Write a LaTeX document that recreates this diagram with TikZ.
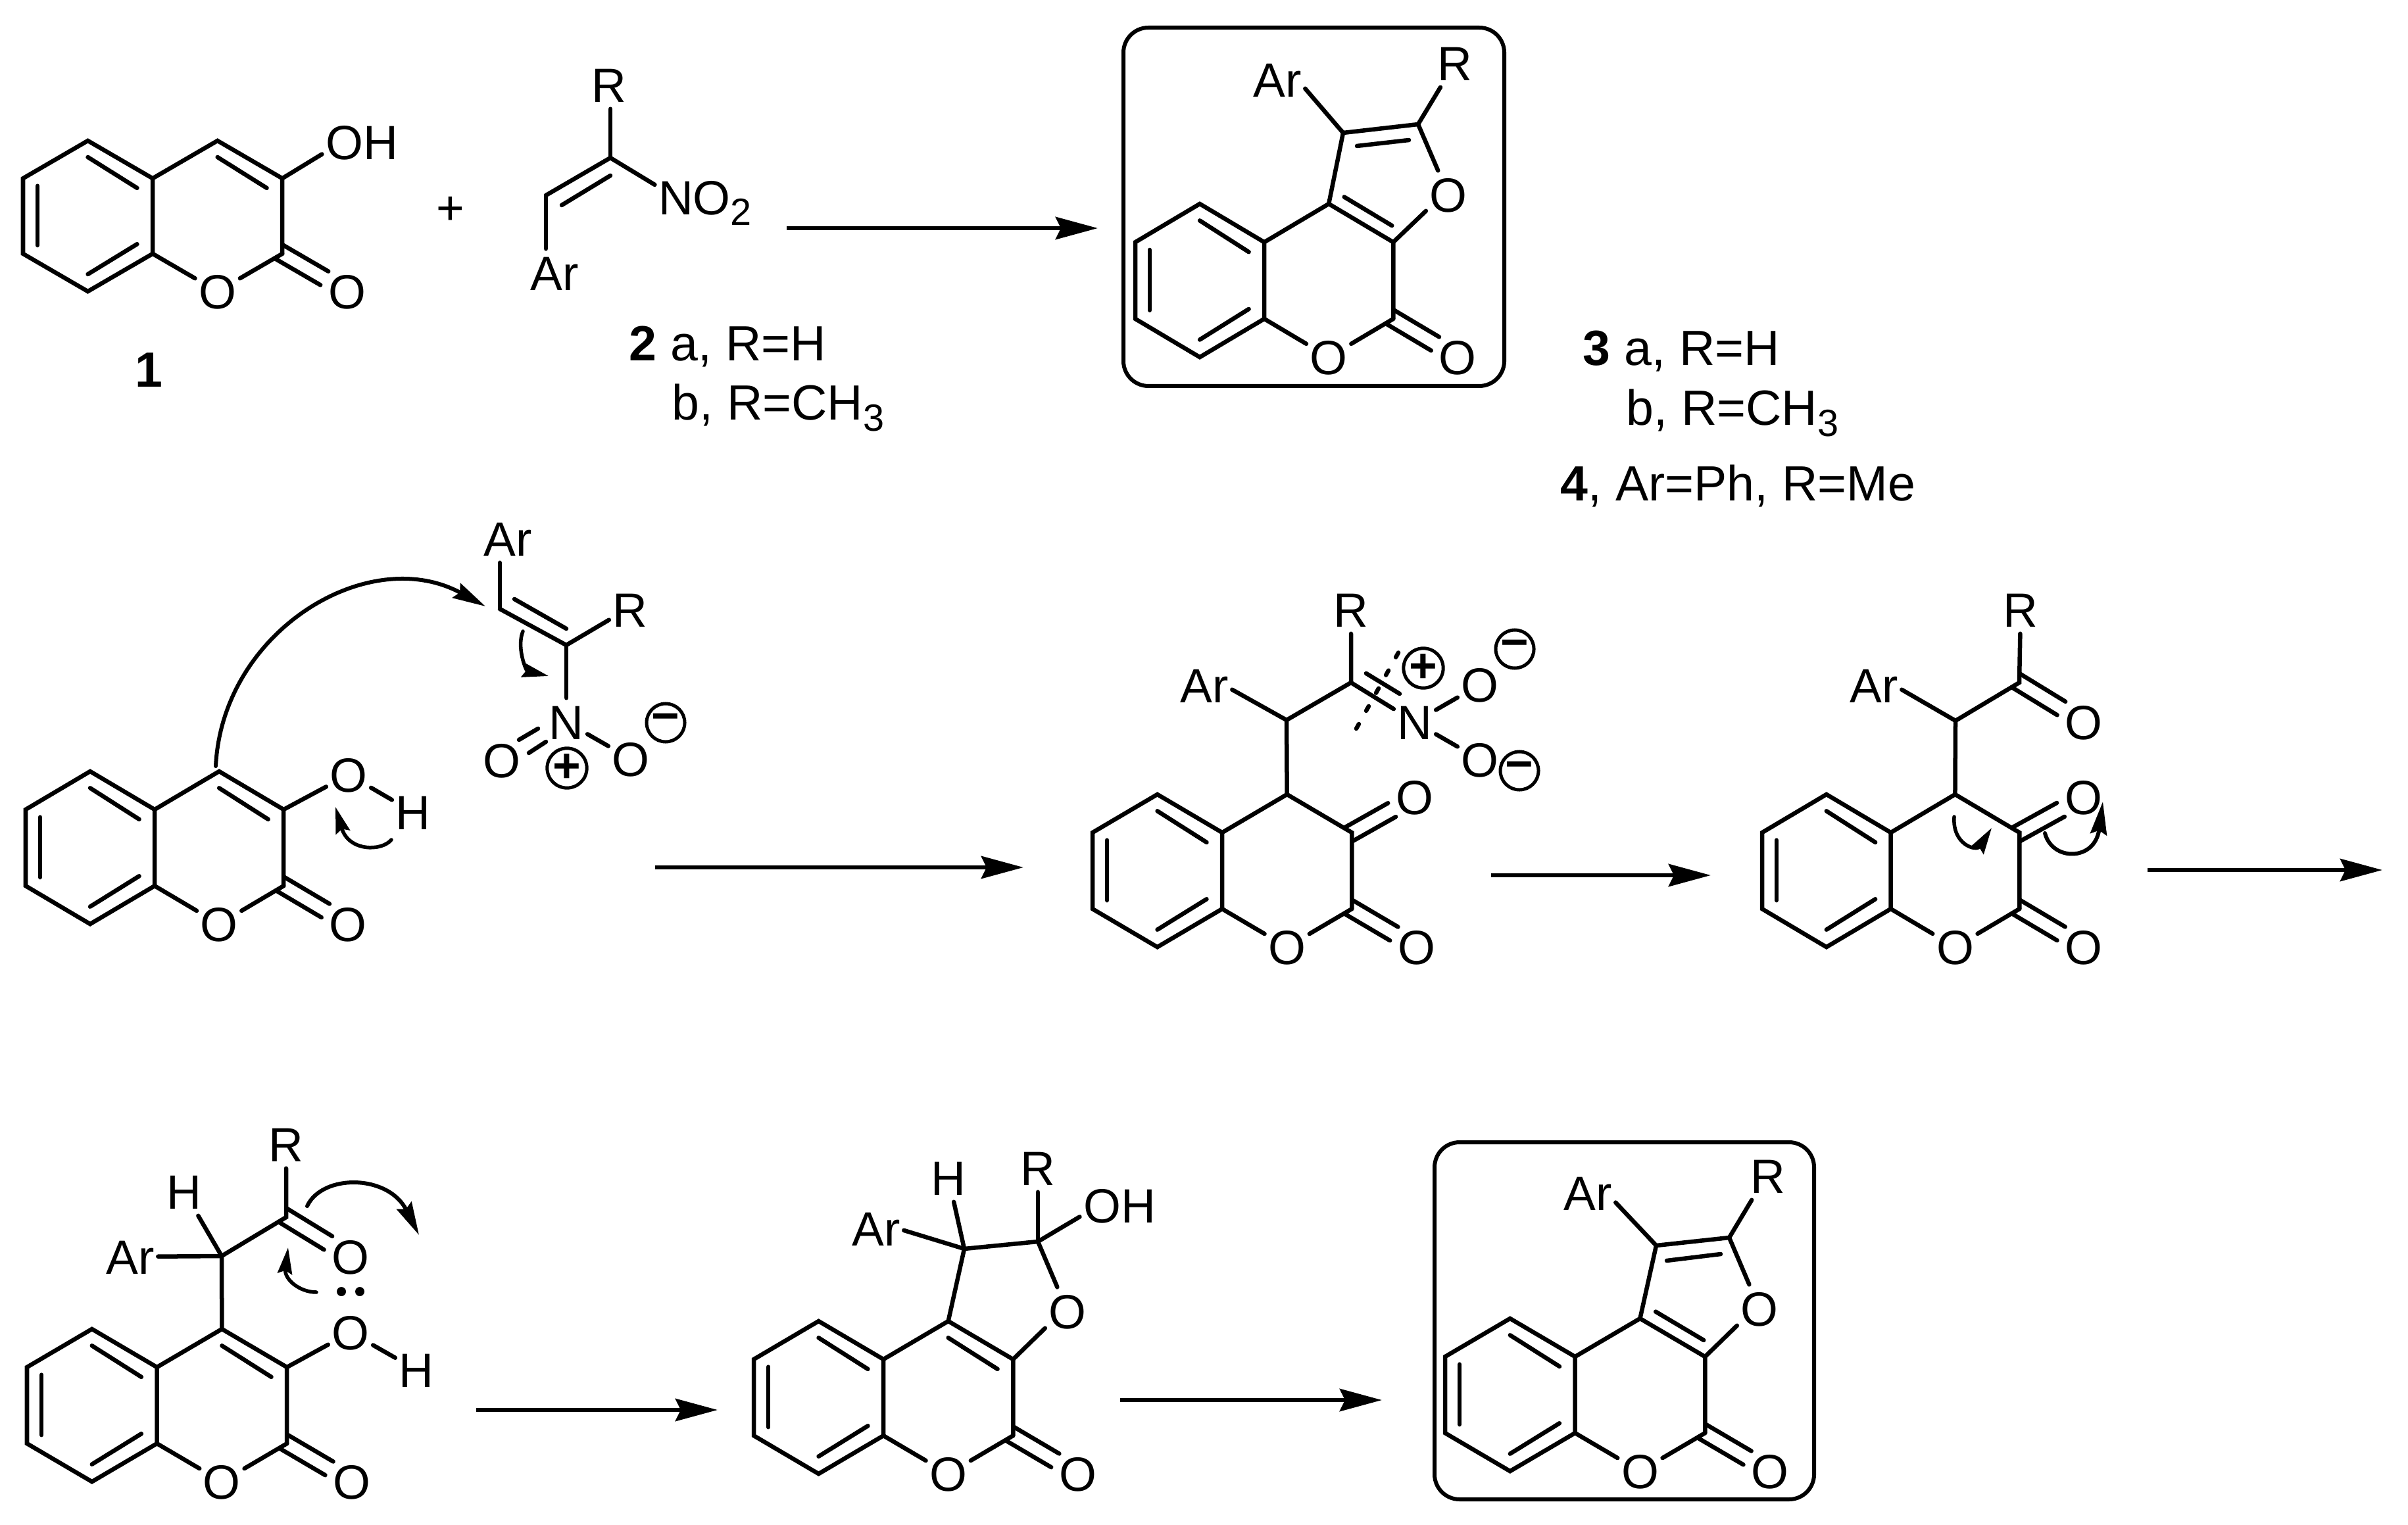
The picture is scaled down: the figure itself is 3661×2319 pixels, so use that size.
\documentclass[tikz,border=0pt]{standalone}
\usepackage{fontspec}
\setmainfont{Liberation Sans}
\usetikzlibrary{arrows.meta,calc,positioning}

\tikzset{
    bond/.style={line width=.065cm, line cap=round},
    atom/.style={inner xsep=.05cm, inner ysep=.1cm, text height=.52cm, text depth=0pt, font=\fontsize{20.8pt}{24pt}\selectfont},
    lbl/.style={inner sep=0pt, anchor=west, text height=.52cm, text depth=0pt, font=\fontsize{21.4pt}{24pt}\selectfont},
    rxn/.style={line width=.067cm, -{Stealth[length=.64cm, width=.34cm, inset=.08cm]}},
    arcbig/.style={line width=.06cm, line cap=round, -{Stealth[length=.5cm, width=.25cm, inset=.06cm]}},
    arcsmall/.style={line width=.055cm, line cap=round, -{Stealth[length=.4cm, width=.22cm, inset=.05cm]}},
    charge/.style={circle, draw, line width=.05cm, minimum size=.58cm, inner sep=0pt, font=\fontsize{20.8pt}{24pt}\selectfont\bfseries},
    lonepair/.style={circle, fill, minimum size=.14cm, inner sep=0pt},
    framebox/.style={line width=.06cm, rounded corners=.38cm}
}

\newcommand{\subs}[1]{\raisebox{-.23em}{\fontsize{16.4pt}{16pt}\selectfont #1}}
\newcommand{\dblbond}[2]{
    \draw[bond, shorten <=-.06cm, shorten >=.4cm] ($(#1)!.12cm!90:(#2)$) -- ($(#2)!.12cm!-90:(#1)$);
    \draw[bond, shorten <=-.06cm, shorten >=.4cm] ($(#1)!.12cm!-90:(#2)$) -- ($(#2)!.12cm!90:(#1)$);
}
\newcommand{\lactonedbl}{\draw[bond] (1.5,.109) -- (1.88,.314);}
\newcommand{\furandbl}{\draw[bond] (1.62,-.045) -- (1.99,.142);}
\newcommand{\coumarin}[6]{
    \begin{scope}[shift={(#2,#3)}, x=#4cm, y=-#5cm]
        \coordinate (#1a1) at (0,.25);
        \coordinate (#1a2) at (.5,0);
        \coordinate (#1b1) at (1,.25);
        \coordinate (#1b2) at (1,.75);
        \coordinate (#1a3) at (.5,1);
        \coordinate (#1a4) at (0,.75);
        \coordinate (#1c0) at (1.5,0);
        \coordinate (#1c1) at (2,.25);
        \coordinate (#1c2) at (2,.75);
        \node[atom] (#1o) at (1.5,1) {O};
        \node[atom] (#1oc) at (2.5,1) {O};
        \draw[bond] (#1a1) -- (#1a2) -- (#1b1) -- (#1b2) -- (#1a3) -- (#1a4) -- cycle;
        \draw[bond] (#1b1) -- (#1c0) -- (#1c1) -- (#1c2);
        \draw[bond] (#1b2) -- (#1o);
        \draw[bond] (#1o) -- (#1c2);
        \draw[bond] (.5,.109) -- (.88,.314);
        \draw[bond] (.112,.3) -- (.112,.694);
        \draw[bond] (.5,.886) -- (.88,.686);
        #6
    \end{scope}
    \dblbond{#1c2}{#1oc}
}

\begin{document}
\begin{tikzpicture}[x=.01cm, y=-.01cm]
    \useasboundingbox (0,0) rectangle (3661,2319);

    % top row
    \coumarin{sm}{35}{214}{1.97}{2.29}{\lactonedbl}
    \node[atom] (smoh) at (550,216) {OH};
    \draw[bond] (smc1) -- (smoh.197);
    \node[lbl] (smlabel) at (205,562) {\bfseries 1};

    \node[atom] (plus) at (685,315) {+};

    \coordinate (alc1) at (830,297);
    \coordinate (alc2) at (928,240);
    \node[atom] (alr) at (926,129) {R};
    \node[atom] (alar) at (843,415) {Ar};
    \node[atom] (alno) at (1072,300) {NO\subs{2}};
    \draw[bond] (alc1) -- (alc2);
    \draw[bond] (854,312) -- (928,267);
    \draw[bond] (alc2) -- (alc2 |- alr.south);
    \draw[bond] (alc1) -- (alc1 |- alar.north);
    \draw[bond] (alc2) -- (alno.166);
    \node[lbl] (allabela) at (956,522) {\textbf{2} a, R=H};
    \node[lbl] (allabelb) at (1021,612) {b, R=CH\subs{3}};

    \coordinate (arrowas) at (1196,347);
    \coordinate (arrowae) at (1669,347);
    \draw[rxn] (arrowas) -- (arrowae);

    \draw[framebox] (1708,42) rectangle (2287,587);
    \coumarin{pa}{1726}{310}{1.96}{2.33}{\furandbl}
    \coordinate (paf1) at (2042,202);
    \coordinate (paf2) at (2156,189);
    \node[atom] (pafo) at (2202,296) {O};
    \node[atom] (paar) at (1942,121) {Ar};
    \node[atom] (par) at (2212,96) {R};
    \draw[bond] (pac0) -- (paf1) -- (paf2) -- (pafo);
    \draw[bond] (pafo.216) -- (pac1);
    \draw[bond] (2063,222) -- (2142,213);
    \draw[bond] (paf1) -- (paar.-18);
    \draw[bond] (paf2) -- (par.-121);
    \node[lbl] (palabela) at (2406,529) {\textbf{3} a, R=H};
    \node[lbl] (palabelb) at (2472,620) {b, R=CH\subs{3}};
    \node[lbl] (palabelc) at (2372,735) {\textbf{4}, Ar=Ph, R=Me};

    % middle row
    \coumarin{ia}{39}{1173}{1.96}{2.32}{\lactonedbl}
    \node[atom] (iaoh) at (530,1178) {O};
    \node[atom] (iah) at (628,1235) {H};
    \draw[bond] (iac1) -- (iaoh);
    \draw[bond] (iaoh) -- (iah);
    \coordinate (iac3) at (760,926);
    \coordinate (iac4) at (861,981);
    \node[atom] (iaar) at (772,819) {Ar};
    \node[atom] (iar) at (958,927) {R};
    \node[atom] (ian) at (861,1098) {N};
    \node[atom] (iaol) at (763,1156) {O};
    \node[atom] (iaor) at (959,1154) {O};
    \node[charge] (iaplus) at (862,1168) {+};
    \node[charge] (iaminus) at (1012,1099) {−};
    \draw[bond] (iac3) -- (iac3 |- iaar.south);
    \draw[bond] (iac3) -- (iac4);
    \draw[bond] (782,911) -- (861,956);
    \draw[bond] (iac4) -- (iar.206);
    \draw[bond] (iac4) -- (ian);
    \draw[bond] (818,1108) -- (789,1125);
    \draw[bond] (830,1128) -- (804,1145);
    \draw[bond] (ian) -- (iaor);
    \coordinate (iacurvea) at (328,1165);
    \coordinate (iacurveb) at (738,922);
    \draw[arcbig] (iacurvea) .. controls (338,960) and (560,825) .. (iacurveb);
    \coordinate (iacurvec) at (595,1277);
    \coordinate (iacurved) at (510,1227);
    \draw[arcsmall] (iacurvec) .. controls (580,1295) and (530,1295) .. (iacurved);
    \coordinate (iacurvee) at (795,960);
    \coordinate (iacurvef) at (834,1028);
    \draw[arcsmall] (iacurvee) .. controls (785,985) and (800,1020) .. (iacurvef);

    \coordinate (arrowbs) at (996,1319);
    \coordinate (arrowbe) at (1556,1319);
    \draw[rxn] (arrowbs) -- (arrowbe);

    \coumarin{ib}{1661}{1208}{1.97}{2.32}{}
    \coordinate (ibch) at (1956,1095);
    \coordinate (ibc) at (2054,1038);
    \node[atom] (ibar) at (1831,1042) {Ar};
    \node[atom] (ibr) at (2054,927) {R};
    \node[atom] (ibn) at (2151,1098) {N};
    \node[atom] (ibou) at (2250,1041) {O};
    \node[atom] (ibol) at (2250,1155) {O};
    \node[atom] (ibok) at (2151,1212) {O};
    \node[charge] (ibplus) at (2164,1016) {+};
    \node[charge] (ibminusa) at (2303,987) {−};
    \node[charge] (ibminusb) at (2310,1172) {−};
    \draw[bond] (ibc0) -- (ibch) -- (ibc) -- (ibr);
    \draw[bond] (ibch) -- (ibar.-9);
    \draw[bond] (ibc) -- (ibn);
    \draw[bond] (2077,1024) -- (2128,1055);
    \draw[bond] (ibn) -- (ibou);
    \draw[bond] (ibn) -- (ibol);
    \dblbond{ibc1}{ibok}
    \coordinate (ibcuta) at (2062,1108);
    \coordinate (ibcutb) at (2129,987);
    \draw[bond, dash pattern=on .08cm off .23cm] (ibcuta) -- (ibcutb);

    \coordinate (arrowcs) at (2267,1331);
    \coordinate (arrowce) at (2601,1331);
    \draw[rxn] (arrowcs) -- (arrowce);

    \coumarin{ic}{2679}{1208}{1.955}{2.32}{}
    \coordinate (icch) at (2973,1096);
    \coordinate (icc) at (3070,1038);
    \node[atom] (icar) at (2849,1042) {Ar};
    \node[atom] (icr) at (3072,927) {R};
    \node[atom] (icok) at (3168,1098) {O};
    \node[atom] (icot) at (3168,1212) {O};
    \draw[bond] (icc0) -- (icch) -- (icc) -- (icr);
    \draw[bond] (icch) -- (icar.-9);
    \dblbond{icc}{icok}
    \dblbond{icc1}{icot}
    \coordinate (iccurvea) at (2971,1242);
    \coordinate (iccurveb) at (3028,1259);
    \draw[arcsmall] (iccurvea) .. controls (2968,1285) and (3005,1295) .. (iccurveb);
    \coordinate (iccurvec) at (3109,1267);
    \coordinate (iccurved) at (3197,1219);
    \draw[arcbig] (iccurvec) .. controls (3120,1310) and (3185,1310) .. (iccurved);

    \coordinate (arrowds) at (3265,1323);
    \coordinate (arrowde) at (3622,1323);
    \draw[rxn] (arrowds) -- (arrowde);

    % bottom row
    \coumarin{id}{41}{2021}{1.975}{2.32}{\lactonedbl}
    \coordinate (idch) at (337,1910);
    \coordinate (idc) at (435,1851);
    \node[atom] (idar) at (198,1911) {Ar};
    \node[atom] (idhh) at (280,1812) {H};
    \node[atom] (idr) at (435,1740) {R};
    \node[atom] (idok) at (533,1911) {O};
    \node[atom] (idoh) at (533,2026) {O};
    \node[atom] (idh) at (633,2083) {H};
    \node[lonepair] (idlpa) at (519,1964) {};
    \node[lonepair] (idlpb) at (547,1964) {};
    \draw[bond] (idc0) -- (idch) -- (idc) -- (idr);
    \draw[bond] (idch) -- (idar);
    \draw[bond] (idch) -- (idhh);
    \draw[bond] (idc1) -- (idoh);
    \draw[bond] (idoh) -- (idh);
    \dblbond{idc}{idok}
    \coordinate (idcurvea) at (467,1834);
    \coordinate (idcurveb) at (637,1878);
    \draw[arcbig] (idcurvea) .. controls (490,1785) and (590,1785) .. (idcurveb);
    \coordinate (idcurvec) at (481,1965);
    \coordinate (idcurved) at (438,1897);
    \draw[arcsmall] (idcurvec) .. controls (455,1965) and (432,1945) .. (idcurved);

    \coordinate (arrowes) at (724,2144);
    \coordinate (arrowee) at (1091,2144);
    \draw[rxn] (arrowes) -- (arrowee);

    \coumarin{ie}{1146}{2009}{1.97}{2.32}{\lactonedbl}
    \coordinate (ief1) at (1466,1899);
    \coordinate (ief2) at (1578,1888);
    \node[atom] (iefo) at (1623,1994) {O};
    \node[atom] (iear) at (1332,1868) {Ar};
    \node[atom] (iehh) at (1442,1791) {H};
    \node[atom] (ier) at (1578,1776) {R};
    \node[atom] (ieoh) at (1702,1833) {OH};
    \draw[bond] (iec0) -- (ief1) -- (ief2) -- (iefo);
    \draw[bond] (iefo.217) -- (iec1);
    \draw[bond] (ief1) -- (iear.-4);
    \draw[bond] (ief1) -- (iehh);
    \draw[bond] (ief2) -- (ier);
    \draw[bond] (ief2) -- (ieoh.196);

    \coordinate (arrowfs) at (1703,2129);
    \coordinate (arrowfe) at (2101,2129);
    \draw[rxn] (arrowfs) -- (arrowfe);

    \draw[framebox] (2181,1737) rectangle (2758,2280);
    \coumarin{pb}{2197}{2005}{1.975}{2.32}{\furandbl}
    \coordinate (pbf1) at (2518,1894);
    \coordinate (pbf2) at (2629,1882);
    \node[atom] (pbfo) at (2675,1990) {O};
    \node[atom] (pbar) at (2414,1814) {Ar};
    \node[atom] (pbr) at (2688,1788) {R};
    \draw[bond] (pbc0) -- (pbf1) -- (pbf2) -- (pbfo);
    \draw[bond] (pbfo.217) -- (pbc1);
    \draw[bond] (2534,1917) -- (2616,1907);
    \draw[bond] (pbf1) -- (pbar.-19);
    \draw[bond] (pbf2) -- (pbr.-124);
\end{tikzpicture}
\end{document}
